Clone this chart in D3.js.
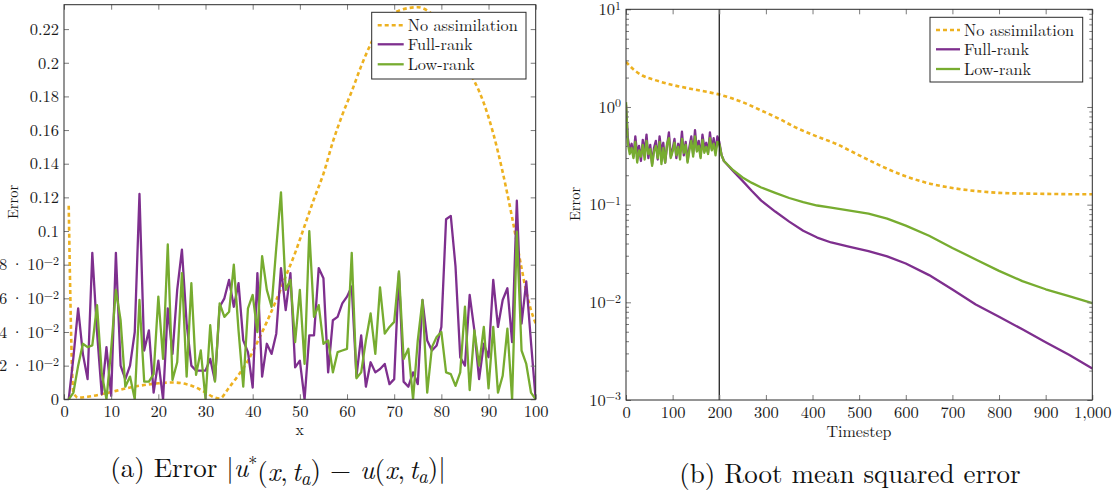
<!DOCTYPE html>
<html>
<head>
<meta charset="utf-8">
<script src="https://cdn.jsdelivr.net/npm/d3@7"></script>
<style>
    body { margin: 0; background: #fff; }
</style>
</head>
<body>
<svg id="fig" width="1113" height="494"></svg>
<script>
/**
 * Data: (a) pointwise error at the analysis time.
 */
const gridX = d3.range(1, 101);

const fullRankErr = [
    0.000, 0.025, 0.054, 0.027, 0.012, 0.087, 0.040, 0.003, 0.031, 0.002,
    0.087, 0.020, 0.012, 0.020, 0.040, 0.122, 0.029, 0.041, 0.004, 0.023,
    0.000, 0.054, 0.027, 0.065, 0.089, 0.045, 0.020, 0.017, 0.017, 0.017,
    0.024, 0.011, 0.055, 0.060, 0.071, 0.055, 0.069, 0.035, 0.028, 0.007,
    0.075, 0.0135, 0.033, 0.027, 0.039, 0.078, 0.053, 0.075, 0.019, 0.023,
    0.000, 0.038, 0.038, 0.078, 0.072, 0.016, 0.047, 0.049, 0.057, 0.061,
    0.067, 0.0135, 0.038, 0.0075, 0.022, 0.016, 0.018, 0.021, 0.009, 0.012,
    0.075, 0.0105, 0.0075, 0.016, 0.009, 0.059, 0.035, 0.029, 0.032, 0.043,
    0.107, 0.109, 0.079, 0.025, 0.020, 0.062, 0.041, 0.012, 0.033, 0.025,
    0.071, 0.043, 0.059, 0.066, 0.034, 0.118, 0.045, 0.070, 0.034, 0.000
];

const lowRankErr = [
    0.000, 0.004, 0.020, 0.033, 0.031, 0.032, 0.056, 0.0155, 0.000, 0.030,
    0.065, 0.047, 0.0075, 0.0135, 0.000, 0.059, 0.0105, 0.0105, 0.015, 0.061,
    0.024, 0.092, 0.0115, 0.022, 0.075, 0.0135, 0.069, 0.0145, 0.029, 0.000,
    0.044, 0.0105, 0.057, 0.049, 0.052, 0.080, 0.041, 0.0075, 0.054, 0.062,
    0.040, 0.085, 0.065, 0.055, 0.090, 0.123, 0.065, 0.071, 0.034, 0.065,
    0.021, 0.100, 0.049, 0.056, 0.033, 0.035, 0.016, 0.028, 0.029, 0.030,
    0.087, 0.0125, 0.016, 0.035, 0.051, 0.027, 0.0665, 0.039, 0.043, 0.046,
    0.076, 0.024, 0.030, 0.000, 0.035, 0.059, 0.004, 0.031, 0.037, 0.040,
    0.016, 0.015, 0.008, 0.016, 0.055, 0.0055, 0.041, 0.020, 0.043, 0.0065,
    0.043, 0.004, 0.014, 0.042, 0.000, 0.0996, 0.029, 0.021, 0.004, 0.000
];

const noAssimX = [1, 2, 3, 5, 8, 11, 14, 17, 20, 23, 26, 28, 30, 32, 33, 35, 37, 39, 41, 43, 45, 47, 49,
    51, 53, 55, 57, 59, 61, 63, 65, 67, 69, 71, 73, 75, 77, 79, 81, 83, 85, 87, 89, 91, 93, 95, 97, 98, 99, 100];
const noAssimErr = [0.115, 0.004, 0.001, 0.0015, 0.003, 0.005, 0.007, 0.0085, 0.0095, 0.010, 0.009, 0.007,
    0.004, 0.001, 0.0005, 0.007, 0.0145, 0.023, 0.034, 0.046, 0.059, 0.073, 0.087,
    0.103, 0.119, 0.134, 0.153, 0.169, 0.183, 0.198, 0.211, 0.222, 0.228, 0.231, 0.2325, 0.233,
    0.231, 0.226, 0.217, 0.207, 0.198, 0.189, 0.176, 0.158, 0.135, 0.108, 0.078, 0.064, 0.053, 0.045];

const errYTicks = [0, 0.02, 0.04, 0.06, 0.08, 0.1, 0.12, 0.14, 0.16, 0.18, 0.2, 0.22];
const errYLabels = ['0', '2·10^−2', '4·10^−2', '6·10^−2', '8·10^−2', '0.1', '0.12', '0.14',
    '0.16', '0.18', '0.2', '0.22'];
const errXTicks = [0, 10, 20, 30, 40, 50, 60, 70, 80, 90, 100];

/**
 * Data: (b) root mean squared error over time.
 */
const noisySteps = d3.range(0, 201, 4);
const fullRankNoisy = [
    1.05, 0.48, 0.36, 0.42, 0.31, 0.50, 0.33, 0.40, 0.28, 0.46,
    0.35, 0.52, 0.30, 0.41, 0.26, 0.38, 0.45, 0.29, 0.50, 0.34,
    0.43, 0.27, 0.40, 0.55, 0.31, 0.37, 0.47, 0.30, 0.42, 0.35,
    0.56, 0.32, 0.44, 0.28, 0.39, 0.50, 0.33, 0.58, 0.36, 0.45,
    0.31, 0.52, 0.38, 0.43, 0.34, 0.55, 0.37, 0.48, 0.35, 0.50,
    0.44
];
const lowRankNoisy = [
    1.12, 0.42, 0.33, 0.38, 0.30, 0.44, 0.27, 0.36, 0.31, 0.41,
    0.29, 0.45, 0.33, 0.37, 0.25, 0.35, 0.40, 0.30, 0.44, 0.26,
    0.38, 0.27, 0.42, 0.48, 0.30, 0.35, 0.43, 0.32, 0.39, 0.29,
    0.47, 0.34, 0.41, 0.27, 0.36, 0.45, 0.31, 0.50, 0.35, 0.40,
    0.30, 0.46, 0.34, 0.39, 0.33, 0.48, 0.36, 0.42, 0.32, 0.44,
    0.42
];
const smoothSteps = [205, 210, 230, 250, 270, 290, 320, 350, 380, 410, 440, 480, 520, 560, 600,
    650, 700, 750, 800, 850, 900, 950, 1000];
const fullRankSmooth = [0.32, 0.28, 0.22, 0.175, 0.138, 0.11, 0.085, 0.067, 0.054, 0.046, 0.041,
    0.037, 0.0335, 0.0295, 0.025, 0.019, 0.0135, 0.0095, 0.0071, 0.0053, 0.0039, 0.0029, 0.0021];
const lowRankSmooth = [0.32, 0.28, 0.225, 0.19, 0.167, 0.15, 0.132, 0.117, 0.106, 0.098, 0.093,
    0.087, 0.081, 0.072, 0.061, 0.048, 0.036, 0.0275, 0.021, 0.0165, 0.0136, 0.0116, 0.0098];
const noAssimSteps = [0, 15, 35, 60, 100, 150, 200, 250, 290, 330, 360, 400, 450, 500, 550, 600,
    650, 700, 750, 800, 850, 900, 950, 1000];
const noAssimRmse = [2.9, 2.45, 2.1, 1.9, 1.68, 1.5, 1.34, 1.12, 0.92, 0.75, 0.63, 0.52, 0.42, 0.32,
    0.245, 0.195, 0.165, 0.148, 0.138, 0.132, 0.130, 0.129, 0.128, 0.128];
const assimEnd = 200;

const rmseYTicks = [1e-3, 1e-2, 1e-1, 1, 10];
const rmseYLabels = ['10^−3', '10^−2', '10^−1', '10^0', '10^1'];
const rmseXTicks = [0, 100, 200, 300, 400, 500, 600, 700, 800, 900, 1000];

const seriesNames = ['No assimilation', 'Full-rank', 'Low-rank'];

/**
 * Visual configs.
 */
const colors = { none: '#EDB120', full: '#7E2F8E', low: '#77AC30' };
const dash = '4,3';
const fontFamily = '"Latin Modern Roman", "CMU Serif", "Liberation Serif", serif';
const tickFont = 16.5;
const boxA = { left: 64, right: 535.7, top: 4.7, bottom: 399.3 };
const boxB = { left: 626, right: 1092.3, top: 9.3, bottom: 400 };

const svg = d3.select('#fig').attr('font-family', fontFamily);

/**
 * Writes a label like "2·10^−2" as text with a raised exponent.
 */
function supLabel(text, label) {
    text.text(null);
    const parts = label.split('^');
    const base = parts[0].split('·');
    text.append('tspan').text(base[0]);
    if (base.length > 1) {
        text.append('tspan').attr('dx', 3.5).text('·');
        text.append('tspan').attr('dx', 3.5).text(base[1]);
    }
    if (parts.length > 1) {
        text.append('tspan').attr('dy', '-0.45em').attr('font-size', 12).text(parts[1]);
    }
}

/**
 * Ticks on all four sides (inward), labels on left and bottom, plus the frame.
 */
function drawAxes(g, box, x, y, xTicks, xFormat, yTicks, yLabels, yMinor) {
    const style = sel => {
        sel.select('.domain').remove();
        sel.selectAll('line').attr('stroke', '#7a7a7a');
        sel.attr('font-family', fontFamily).attr('font-size', tickFont);
        sel.selectAll('text').attr('fill', '#1a1a1a');
    };
    g.append('g').attr('transform', `translate(0,${box.bottom})`)
        .call(d3.axisBottom(x).tickValues(xTicks).tickSize(-5).tickPadding(6).tickFormat(xFormat))
        .call(style);
    g.append('g').attr('transform', `translate(0,${box.top})`)
        .call(d3.axisTop(x).tickValues(xTicks).tickSize(-5).tickFormat(''))
        .call(style);
    const yl = g.append('g').attr('transform', `translate(${box.left},0)`)
        .call(d3.axisLeft(y).tickValues(yTicks).tickSize(-5).tickPadding(5)
            .tickFormat((d, i) => yLabels[i]))
        .call(style);
    yl.selectAll('text').each(function(d, i) { supLabel(d3.select(this), yLabels[i]); });
    g.append('g').attr('transform', `translate(${box.right},0)`)
        .call(d3.axisRight(y).tickValues(yTicks).tickSize(-5).tickFormat(''))
        .call(style);
    if (yMinor) {
        g.append('g').attr('transform', `translate(${box.left},0)`)
            .call(d3.axisLeft(y).tickValues(yMinor).tickSize(-3).tickFormat('')).call(style);
        g.append('g').attr('transform', `translate(${box.right},0)`)
            .call(d3.axisRight(y).tickValues(yMinor).tickSize(-3).tickFormat('')).call(style);
    }
    g.append('rect')
        .attr('x', box.left).attr('y', box.top)
        .attr('width', box.right - box.left).attr('height', box.bottom - box.top)
        .attr('fill', 'none').attr('stroke', '#2a2a2a').attr('stroke-width', 1);
}

/**
 * Legend box in the upper right corner.
 */
function drawLegend(g, x0, y0, w, h, rowY, sampleW) {
    g.append('rect').attr('x', x0).attr('y', y0).attr('width', w).attr('height', h)
        .attr('fill', '#fff').attr('stroke', '#2a2a2a').attr('stroke-width', 1);
    const keys = ['none', 'full', 'low'];
    seriesNames.forEach((name, i) => {
        const cy = y0 + rowY[i];
        g.append('line')
            .attr('x1', x0 + 6).attr('x2', x0 + 6 + sampleW).attr('y1', cy).attr('y2', cy)
            .attr('stroke', colors[keys[i]]).attr('stroke-width', i === 0 ? 2.6 : 2.3)
            .attr('stroke-dasharray', i === 0 ? dash : null);
        g.append('text').attr('x', x0 + sampleW + 10).attr('y', cy + 5.5)
            .attr('font-size', 16.3).attr('fill', '#1a1a1a').text(name);
    });
}

/**
 * Panel (a).
 */
(function() {
    const g = svg.append('g');
    const x = d3.scaleLinear().domain([0, 100]).range([boxA.left, boxA.right]);
    const y = d3.scaleLinear().domain([0, 0.2345]).range([boxA.bottom, boxA.top]);

    g.append('clipPath').attr('id', 'clipA').append('rect')
        .attr('x', boxA.left).attr('y', boxA.top)
        .attr('width', boxA.right - boxA.left).attr('height', boxA.bottom - boxA.top);
    const plot = g.append('g').attr('clip-path', 'url(#clipA)');

    const smooth = d3.line().x(d => x(d[0])).y(d => y(d[1])).curve(d3.curveMonotoneX);
    const jagged = d3.line().x(d => x(d[0])).y(d => y(d[1]));

    plot.append('path').datum(d3.zip(noAssimX, noAssimErr))
        .attr('d', smooth).attr('fill', 'none').attr('stroke', colors.none)
        .attr('stroke-width', 2.6).attr('stroke-dasharray', dash);
    plot.append('path').datum(d3.zip(gridX, fullRankErr))
        .attr('d', jagged).attr('fill', 'none').attr('stroke', colors.full)
        .attr('stroke-width', 2.3).attr('stroke-linejoin', 'round');
    plot.append('path').datum(d3.zip(gridX, lowRankErr))
        .attr('d', jagged).attr('fill', 'none').attr('stroke', colors.low)
        .attr('stroke-width', 2.3).attr('stroke-linejoin', 'round');

    drawAxes(g, boxA, x, y, errXTicks, d3.format('d'), errYTicks, errYLabels, null);
    drawLegend(g, 371.7, 12.3, 154.3, 66.7, [13, 32, 52], 26);

    g.append('text').attr('x', (boxA.left + boxA.right) / 2).attr('y', 435)
        .attr('text-anchor', 'middle').attr('font-size', 16).attr('fill', '#1a1a1a').text('x');
    g.append('text').attr('transform', 'translate(18,202) rotate(-90)')
        .attr('text-anchor', 'middle').attr('font-size', 14.5).attr('fill', '#1a1a1a').text('Error');
})();

/**
 * Panel (b).
 */
(function() {
    const g = svg.append('g');
    const x = d3.scaleLinear().domain([0, 1000]).range([boxB.left, boxB.right]);
    const y = d3.scaleLog().domain([1e-3, 10]).range([boxB.bottom, boxB.top]);

    g.append('clipPath').attr('id', 'clipB').append('rect')
        .attr('x', boxB.left).attr('y', boxB.top)
        .attr('width', boxB.right - boxB.left).attr('height', boxB.bottom - boxB.top);
    const plot = g.append('g').attr('clip-path', 'url(#clipB)');

    const smooth = d3.line().x(d => x(d[0])).y(d => y(d[1])).curve(d3.curveMonotoneX);
    const jagged = d3.line().x(d => x(d[0])).y(d => y(d[1]));
    const joined = (noisy, tail) => d3.zip(noisySteps, noisy).concat(d3.zip(smoothSteps, tail));

    plot.append('path').datum(d3.zip(noAssimSteps, noAssimRmse))
        .attr('d', smooth).attr('fill', 'none').attr('stroke', colors.none)
        .attr('stroke-width', 2.6).attr('stroke-dasharray', dash);
    plot.append('path').datum(joined(fullRankNoisy, fullRankSmooth))
        .attr('d', jagged).attr('fill', 'none').attr('stroke', colors.full)
        .attr('stroke-width', 2.3).attr('stroke-linejoin', 'round');
    plot.append('path').datum(joined(lowRankNoisy, lowRankSmooth))
        .attr('d', jagged).attr('fill', 'none').attr('stroke', colors.low)
        .attr('stroke-width', 2.3).attr('stroke-linejoin', 'round');

    // End of the assimilation window
    plot.append('line')
        .attr('x1', x(assimEnd)).attr('x2', x(assimEnd))
        .attr('y1', boxB.top).attr('y2', boxB.bottom)
        .attr('stroke', '#111').attr('stroke-width', 1.2);

    const minor = [];
    rmseYTicks.slice(0, -1).forEach(d => d3.range(2, 10).forEach(k => minor.push(d * k)));
    drawAxes(g, boxB, x, y, rmseXTicks, d3.format(','), rmseYTicks, rmseYLabels, minor);
    drawLegend(g, 930, 17.3, 152.7, 64.7, [12.7, 32, 51.7], 24);

    g.append('text').attr('x', 859).attr('y', 437)
        .attr('text-anchor', 'middle').attr('font-size', 16).attr('fill', '#1a1a1a').text('Timestep');
    g.append('text').attr('transform', 'translate(580,204) rotate(-90)')
        .attr('text-anchor', 'middle').attr('font-size', 14.5).attr('fill', '#1a1a1a').text('Error');
})();

/**
 * Sub-figure captions.
 */
(function() {
    const capA = svg.append('text').attr('x', 278).attr('y', 477)
        .attr('text-anchor', 'middle').attr('font-size', 27).attr('fill', '#111');
    const part = (t, italic, shift, size, dx) => {
        const s = capA.append('tspan').text(t);
        if (italic) s.attr('font-style', 'italic');
        if (shift) s.attr('dy', shift);
        if (size) s.attr('font-size', size);
        if (dx) s.attr('dx', dx);
        return s;
    };
    part('(a) Error |');
    part('u', true);
    part('*', false, '-0.4em', 18);
    part('(', false, '0.4em');
    part('x', true); part(','); part('t', true, null, null, 4);
    part('a', true, '0.25em', 19);
    part(') − ', false, '-0.25em');
    part('u', true); part('('); part('x', true); part(','); part('t', true, null, null, 4);
    part('a', true, '0.25em', 19);
    part(')|', false, '-0.25em');

    svg.append('text').attr('x', 850).attr('y', 483)
        .attr('text-anchor', 'middle').attr('font-size', 27).attr('fill', '#111')
        .text('(b) Root mean squared error');
})();
</script>
</body>
</html>
